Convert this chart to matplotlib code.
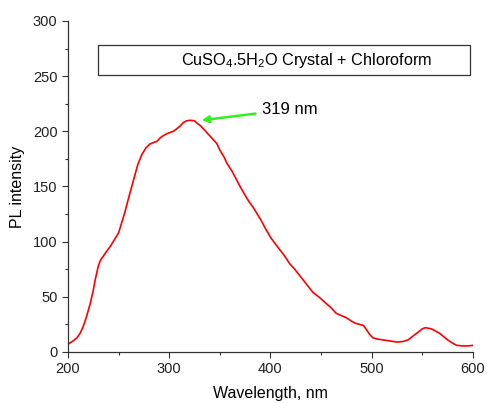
import matplotlib.pyplot as plt
import numpy as np

# PL spectrum
wavelength = [200, 205, 209, 212, 215, 218, 222, 225, 227, 230, 232, 235, 238, 242,
              246, 250, 253, 256, 260, 263, 266, 269, 273, 277, 281, 285, 288, 291,
              294, 298, 301, 304, 307, 311, 314, 317, 321, 325, 328, 331, 334, 338,
              343, 347, 350, 354, 357, 362, 366, 370, 375, 379, 383, 387, 391, 395,
              400, 404, 409, 414, 419, 424, 430, 436, 442, 449, 455, 460, 465, 470,
              475, 480, 484, 488, 492, 495, 498, 501, 504, 507, 511, 518, 525, 531,
              536, 541, 546, 550, 553, 556, 559, 563, 567, 571, 575, 580, 584, 590,
              595, 600]
intensity = [7, 10, 13, 17, 23, 31, 44, 56, 66, 78, 83, 87, 91, 96,
             102, 108, 117, 126, 140, 150, 160, 170, 179, 185, 188.5, 190, 191, 194,
             196, 198, 199, 200, 202, 205, 208, 209.5, 210, 209.5, 207, 205, 202, 198,
             193, 189, 183, 177, 171, 164, 157, 150, 142, 136, 131, 125, 119, 112,
             104, 99, 93, 87, 80, 75, 68, 61, 54, 49, 44, 40, 35, 33,
             31, 28, 26, 25, 24, 20, 16, 13, 12, 11.5, 11, 10, 9, 9.5,
             11, 14.5, 18, 21, 22, 21.5, 21, 19, 17, 14, 11, 8, 6, 5.5,
             5.5, 6]

peak_label = "319 nm"
arrow_tip = (332, 210)
label_pos = (392, 220)

plt.rcParams['font.family'] = ['Liberation Sans', 'DejaVu Sans']
plt.rcParams['mathtext.fontset'] = 'custom'
plt.rcParams['mathtext.rm'] = 'Liberation Sans'
plt.rcParams['mathtext.default'] = 'regular'

fig = plt.figure(figsize=(4.87, 4.03), dpi=100)
ax = fig.add_axes([0.1396, 0.1266, 0.8314, 0.8213])

ax.plot(wavelength, intensity, color='red', linewidth=1.2)

ax.set_xlim(200, 600)
ax.set_ylim(0, 300)
ax.set_xticks([200, 300, 400, 500, 600])
ax.set_xticks([250, 350, 450, 550], minor=True)
ax.set_yticks([0, 50, 100, 150, 200, 250, 300])
ax.set_yticks(np.arange(25, 300, 50), minor=True)
ax.tick_params(which='both', direction='out', labelsize=10.5, width=0.8,
               color='#333333', labelcolor='#222222')
ax.tick_params(which='major', length=4)
ax.tick_params(which='minor', length=2.5)
for s in ['top', 'right']:
    ax.spines[s].set_visible(False)
for s in ['left', 'bottom']:
    ax.spines[s].set_linewidth(0.9)
    ax.spines[s].set_color('#333333')

ax.set_xlabel("Wavelength, nm", fontsize=11.5, labelpad=7)
ax.set_ylabel("PL intensity", fontsize=11.5, labelpad=6)

# title box
ax.add_patch(plt.Rectangle((0.074, 0.837), 0.919, 0.09, transform=ax.transAxes,
                           fill=False, ec='#333333', lw=0.9, clip_on=False))
ax.text(0.59, 0.882, r"CuSO$_4$.5H$_2$O Crystal + Chloroform", transform=ax.transAxes,
        ha='center', va='center', fontsize=11.7)

ax.annotate(peak_label, xy=arrow_tip, xytext=label_pos, fontsize=12,
            ha='left', va='center',
            arrowprops=dict(arrowstyle='-|>', color='#33ee22', lw=1.8,
                            mutation_scale=10, shrinkA=3, shrinkB=0))

plt.savefig("out.png", dpi=100)
